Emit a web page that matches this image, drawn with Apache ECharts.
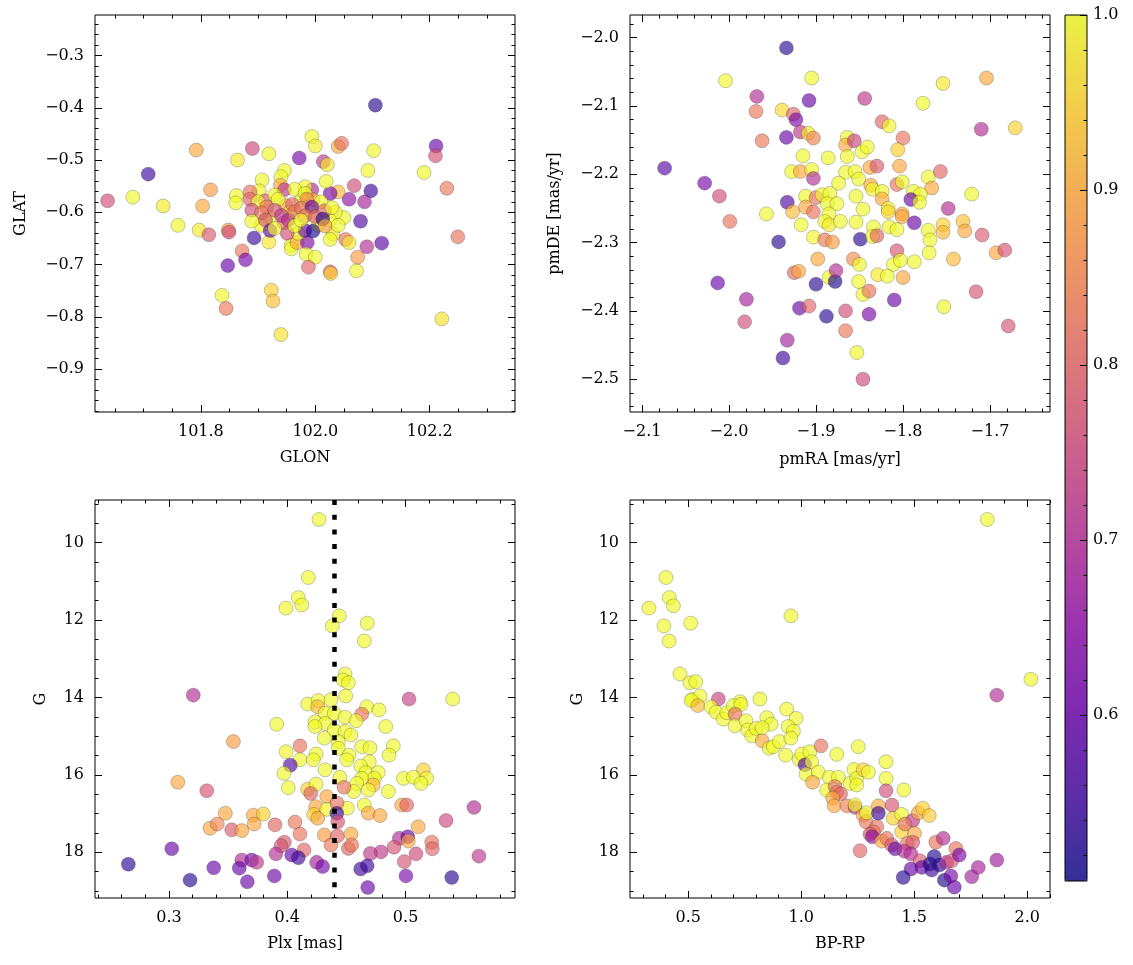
<!DOCTYPE html>
<html><head><meta charset="utf-8">
<style>html,body{margin:0;padding:0;background:#fff}#chart{width:1133px;height:965px}</style>
<script src="https://cdn.jsdelivr.net/npm/echarts@6/dist/echarts.min.js"></script>
</head><body><div id="chart"></div>
<script>
// [GLON, GLAT, membership probability]
const glonGlat = [
[102.105,-0.395,0.53],[101.792,-0.481,0.90],[101.890,-0.478,0.75],[101.919,-0.488,1.00],[101.864,-0.500,0.98],
[101.972,-0.496,0.62],[101.994,-0.455,1.00],[102.000,-0.473,0.99],[102.040,-0.474,0.90],[102.046,-0.468,0.82],
[102.014,-0.503,0.72],[102.021,-0.509,0.98],[102.102,-0.482,1.00],[102.092,-0.520,1.00],[102.211,-0.473,0.60],
[102.210,-0.492,0.77],[102.190,-0.524,1.00],[102.230,-0.554,0.83],[102.249,-0.647,0.82],[102.221,-0.804,0.97],
[101.708,-0.527,0.55],[101.637,-0.578,0.76],[101.681,-0.571,1.00],[101.734,-0.588,0.98],[101.760,-0.625,1.00],
[101.817,-0.557,0.88],[101.803,-0.588,0.90],[101.797,-0.634,0.98],[101.814,-0.643,0.78],[101.848,-0.634,0.88],
[101.849,-0.638,0.75],[101.872,-0.674,0.82],[101.878,-0.691,0.62],[101.847,-0.702,0.60],[101.893,-0.649,0.55],
[101.919,-0.657,0.98],[101.837,-0.759,1.00],[101.844,-0.784,0.83],[101.923,-0.749,0.95],[101.926,-0.770,0.93],
[101.940,-0.834,0.97],[101.958,-0.663,1.00],[101.958,-0.670,1.00],[101.968,-0.658,0.90],[101.986,-0.658,0.63],
[101.984,-0.680,1.00],[102.000,-0.686,1.00],[101.988,-0.705,0.80],[102.026,-0.714,0.80],[102.027,-0.717,0.95],
[102.072,-0.712,1.00],[102.074,-0.686,0.88],[102.053,-0.652,0.82],[102.059,-0.658,0.98],[102.090,-0.666,0.70],
[102.116,-0.659,0.58],[102.079,-0.617,0.57],[102.050,-0.610,1.00],[102.031,-0.642,0.98],[102.026,-0.652,1.00],
[102.097,-0.559,0.55],[102.068,-0.549,0.76],[102.086,-0.580,0.68],[102.059,-0.575,0.65],[102.040,-0.561,0.92],
[102.026,-0.564,0.62],[102.019,-0.541,1.00],[101.994,-0.557,0.70],[101.982,-0.551,1.00],[101.946,-0.520,1.00],
[101.940,-0.532,1.00],[101.907,-0.538,1.00],[101.902,-0.559,1.00],[101.886,-0.561,0.82],[101.886,-0.575,0.80],
[101.862,-0.568,1.00],[101.861,-0.582,1.00],[101.912,-0.578,0.78],[101.939,-0.548,0.90],[101.946,-0.557,0.72],
[101.929,-0.567,1.00],[101.948,-0.587,0.90],[101.976,-0.576,1.00],[101.996,-0.576,0.92],[101.955,-0.600,1.00],
[102.010,-0.580,1.00],[101.920,-0.610,1.00],[102.035,-0.600,1.00],[101.970,-0.640,1.00],[101.900,-0.580,1.00],
[101.964,-0.556,1.00],[101.982,-0.564,1.00],[101.935,-0.575,1.00],[101.990,-0.600,1.00],[102.005,-0.625,1.00],
[101.945,-0.620,0.82],[101.915,-0.590,0.85],[102.025,-0.615,1.00],[101.960,-0.585,0.80],[102.040,-0.625,1.00],
[101.905,-0.625,1.00],[101.985,-0.575,0.85],
[101.889,-0.596,0.76],[101.906,-0.601,0.82],[101.929,-0.596,0.77],
[101.941,-0.606,0.72],[101.913,-0.615,0.77],[101.889,-0.617,1.00],[101.953,-0.615,0.70],[101.964,-0.599,0.82],
[101.976,-0.592,0.82],[101.994,-0.590,0.60],[101.982,-0.607,0.82],[102.000,-0.608,0.80],[102.016,-0.597,0.80],
[102.013,-0.613,0.53],[102.029,-0.591,1.00],[101.921,-0.635,0.60],[101.951,-0.640,0.76],[101.982,-0.635,0.60],
[101.996,-0.636,0.52],[102.017,-0.626,0.90],[101.929,-0.631,1.00],[101.964,-0.626,1.00],[101.975,-0.615,1.00]
];
// [pmRA, pmDE, membership probability]
const pmraPmde = [
[-1.934,-2.015,0.53],[-2.004,-2.063,1.00],[-1.905,-2.059,1.00],[-1.968,-2.086,0.70],[-1.908,-2.092,0.60],
[-1.844,-2.089,0.72],[-1.754,-2.067,0.98],[-1.704,-2.059,0.90],[-1.777,-2.096,1.00],[-1.969,-2.108,0.83],
[-1.939,-2.106,0.96],[-1.926,-2.112,0.80],[-1.923,-2.120,0.62],[-1.918,-2.138,0.72],[-1.909,-2.140,0.98],
[-1.903,-2.147,0.84],[-1.934,-2.146,0.60],[-1.962,-2.151,0.83],[-1.824,-2.123,0.80],[-1.816,-2.129,1.00],
[-1.800,-2.147,0.82],[-1.710,-2.134,0.70],[-1.671,-2.132,0.95],[-2.074,-2.191,0.58],[-2.028,-2.213,0.62],
[-2.011,-2.232,0.76],[-1.864,-2.146,1.00],[-1.866,-2.157,0.90],[-1.856,-2.151,0.74],[-1.847,-2.167,1.00],
[-1.841,-2.160,1.00],[-1.915,-2.173,1.00],[-1.886,-2.176,1.00],[-1.864,-2.174,1.00],[-1.806,-2.164,0.95],
[-1.804,-2.188,0.90],[-1.838,-2.190,0.90],[-1.830,-2.188,0.78],[-1.928,-2.196,1.00],[-1.918,-2.196,0.90],
[-1.905,-2.193,1.00],[-1.903,-2.206,0.70],[-1.866,-2.197,1.00],[-1.855,-2.196,1.00],[-1.851,-2.207,1.00],
[-1.874,-2.213,1.00],[-1.837,-2.216,0.90],[-1.835,-2.222,1.00],[-1.824,-2.225,1.00],[-1.824,-2.236,0.90],
[-1.807,-2.215,0.82],[-1.801,-2.211,1.00],[-1.771,-2.204,1.00],[-1.757,-2.196,0.80],[-1.767,-2.220,0.90],
[-1.788,-2.225,1.00],[-1.780,-2.229,1.00],[-1.791,-2.237,0.60],[-1.781,-2.241,1.00],[-1.721,-2.229,1.00],
[-1.748,-2.250,0.70],[-1.912,-2.232,1.00],[-1.900,-2.234,0.82],[-1.893,-2.230,1.00],[-1.884,-2.228,1.00],
[-1.854,-2.232,1.00],[-1.887,-2.243,1.00],[-1.876,-2.243,1.00],[-1.933,-2.241,0.57],[-1.912,-2.248,0.90],
[-1.957,-2.258,1.00],[-1.927,-2.255,0.92],[-1.903,-2.255,0.82],[-1.885,-2.258,1.00],[-1.846,-2.251,1.00],
[-1.817,-2.250,1.00],[-1.817,-2.255,0.95],[-1.801,-2.258,0.90],[-1.999,-2.269,0.82],[-1.917,-2.274,1.00],
[-1.890,-2.269,1.00],[-1.885,-2.274,0.98],[-1.872,-2.269,1.00],[-1.854,-2.270,1.00],[-1.834,-2.277,1.00],
[-1.816,-2.277,1.00],[-1.807,-2.281,1.00],[-1.801,-2.262,0.90],[-1.787,-2.271,0.60],[-1.771,-2.282,1.00],
[-1.769,-2.296,1.00],[-1.770,-2.315,1.00],[-1.754,-2.274,0.95],[-1.754,-2.285,0.92],[-1.731,-2.269,0.93],
[-1.729,-2.283,0.90],[-1.709,-2.289,0.78],[-1.693,-2.315,0.90],[-1.683,-2.311,0.77],[-1.742,-2.324,0.92],
[-1.943,-2.299,0.53],[-1.903,-2.292,1.00],[-1.890,-2.296,0.83],[-1.881,-2.299,0.88],[-1.849,-2.295,0.53],
[-1.835,-2.291,1.00],[-1.830,-2.290,0.80],[-1.898,-2.324,0.90],[-1.857,-2.324,0.86],[-1.850,-2.332,1.00],
[-1.807,-2.312,0.77],[-1.811,-2.332,1.00],[-1.803,-2.326,1.00],[-1.787,-2.328,1.00],[-2.013,-2.359,0.60],
[-1.980,-2.383,0.68],[-1.982,-2.416,0.76],[-1.925,-2.344,0.80],[-1.920,-2.342,0.90],[-1.900,-2.361,0.53],
[-1.885,-2.351,1.00],[-1.878,-2.357,0.52],[-1.877,-2.341,0.70],[-1.851,-2.357,1.00],[-1.846,-2.376,1.00],
[-1.839,-2.371,0.82],[-1.829,-2.347,0.98],[-1.818,-2.349,1.00],[-1.800,-2.351,0.90],[-1.810,-2.384,0.60],
[-1.753,-2.394,1.00],[-1.716,-2.372,0.77],[-1.679,-2.422,0.77],[-1.919,-2.396,0.60],[-1.908,-2.393,0.80],
[-1.888,-2.408,0.53],[-1.866,-2.400,0.76],[-1.839,-2.405,0.62],[-1.866,-2.429,0.83],[-1.933,-2.443,0.68],
[-1.938,-2.469,0.55],[-1.853,-2.461,1.00],[-1.846,-2.500,0.75]
];
// [Plx, G, membership probability]
const plxG = [
[0.4268,9.40,1.00],[0.4178,10.90,1.00],[0.4093,11.42,1.00],[0.4122,11.61,1.00],[0.3989,11.69,1.00],
[0.4440,11.89,1.00],[0.4380,12.15,1.00],[0.4676,12.08,1.00],[0.4651,12.54,1.00],[0.4488,13.39,1.00],
[0.4473,13.55,1.00],[0.4516,13.62,1.00],[0.3205,13.94,0.70],[0.4494,13.96,1.00],[0.5029,14.04,0.74],
[0.5398,14.04,1.00],[0.4172,14.17,1.00],[0.4262,14.08,1.00],[0.4257,14.24,0.92],[0.4369,14.06,1.00],
[0.4319,14.41,1.00],[0.4397,14.41,1.00],[0.4488,14.51,1.00],[0.4671,14.24,1.00],[0.4775,14.32,1.00],
[0.4629,14.43,0.82],[0.4581,14.60,1.00],[0.4234,14.63,1.00],[0.4319,14.67,1.00],[0.3910,14.69,1.00],
[0.4234,14.75,1.00],[0.4397,14.84,1.00],[0.4488,14.88,1.00],[0.4538,14.97,1.00],[0.4832,14.75,1.00],
[0.4313,15.05,1.00],[0.4431,15.14,1.00],[0.3544,15.14,0.88],[0.4107,15.25,0.82],[0.3989,15.40,1.00],
[0.4243,15.46,1.00],[0.4431,15.31,1.00],[0.4522,15.49,1.00],[0.4629,15.27,1.00],[0.4699,15.30,1.00],
[0.4896,15.25,1.00],[0.4860,15.49,1.00],[0.4107,15.61,1.00],[0.4220,15.61,1.00],[0.4502,15.61,1.00],
[0.4693,15.66,1.00],[0.4025,15.75,0.57],[0.4620,15.77,1.00],[0.4319,15.87,1.00],[0.3972,15.96,1.00],
[0.4663,15.94,1.00],[0.4769,15.94,1.00],[0.4735,16.09,1.00],[0.4629,16.09,1.00],[0.4445,16.06,1.00],
[0.5150,15.87,0.95],[0.4981,16.09,1.00],[0.5065,16.06,1.00],[0.5178,16.09,1.00],[0.5130,16.22,1.00],
[0.4587,16.22,1.00],[0.4727,16.26,0.92],[0.4685,16.39,1.00],[0.4561,16.43,1.00],[0.4854,16.43,1.00],
[0.4008,16.33,1.00],[0.4172,16.37,0.95],[0.4243,16.24,1.00],[0.4198,16.48,0.80],[0.4479,16.32,0.82],
[0.3074,16.19,0.90],[0.3319,16.41,0.77],[0.4333,16.56,0.90],[0.4240,16.82,0.90],[0.4333,16.89,1.00],
[0.4507,16.86,1.00],[0.4420,16.73,0.82],[0.4418,16.99,0.55],[0.4223,17.02,0.95],[0.4257,17.12,0.90],
[0.4651,16.78,1.00],[0.4685,16.99,0.90],[0.4784,17.05,0.90],[0.4967,16.78,0.90],[0.5009,16.78,0.80],
[0.5578,16.84,0.70],[0.5342,17.18,0.75],[0.5107,17.34,0.90],[0.3476,16.99,0.90],[0.3713,17.04,0.90],
[0.3797,17.01,0.95],[0.3719,17.27,0.90],[0.3347,17.38,0.90],[0.3408,17.27,0.85],[0.3530,17.42,0.78],
[0.3615,17.44,0.90],[0.3896,17.29,0.80],[0.4065,17.22,0.83],[0.4107,17.53,0.82],[0.4313,17.55,0.88],
[0.4423,17.58,0.80],[0.4538,17.53,0.90],[0.4369,17.81,0.83],[0.4516,17.90,0.80],[0.4544,17.81,0.83],
[0.4426,17.21,0.77],[0.4947,17.64,0.70],[0.5018,17.60,0.60],[0.5023,17.71,0.90],[0.5221,17.74,0.82],
[0.5226,17.91,0.80],[0.4902,17.87,0.77],[0.4792,17.99,0.72],[0.4702,18.03,0.72],[0.4989,18.24,0.77],
[0.5088,18.04,0.75],[0.5620,18.10,0.72],[0.3975,17.74,0.78],[0.3947,17.83,0.77],[0.4141,17.94,0.80],
[0.3904,18.04,0.70],[0.4037,18.07,0.60],[0.4093,18.14,0.55],[0.4248,18.26,0.68],[0.4299,18.37,0.62],
[0.3615,18.20,0.70],[0.3699,18.20,0.62],[0.3741,18.26,0.72],[0.3594,18.41,0.60],[0.3378,18.40,0.60],
[0.3023,17.91,0.60],[0.2656,18.31,0.53],[0.3178,18.72,0.53],[0.3662,18.76,0.60],[0.3890,18.61,0.60],
[0.4620,18.43,0.55],[0.4676,18.35,0.55],[0.4680,18.91,0.60],[0.5003,18.61,0.62],[0.5390,18.65,0.53]
];
// [BP-RP, G, membership probability]
const colorG = [
[1.823,9.40,1.00],[0.401,10.90,1.00],[0.416,11.42,1.00],[0.434,11.63,1.00],[0.326,11.69,1.00],
[0.954,11.89,1.00],[0.392,12.15,1.00],[0.511,12.08,1.00],[0.415,12.54,1.00],[0.463,13.39,1.00],
[0.507,13.62,1.00],[0.533,13.59,1.00],[2.016,13.53,1.00],[1.865,13.94,0.70],[0.518,14.05,1.00],
[0.552,13.96,1.00],[0.633,14.04,0.74],[0.729,14.11,1.00],[0.817,14.04,1.00],[0.512,14.08,1.00],
[0.542,14.21,0.92],[0.600,14.24,1.00],[0.623,14.38,1.00],[0.655,14.56,1.00],[0.670,14.39,1.00],
[0.699,14.21,1.00],[0.733,14.18,1.00],[0.707,14.43,0.82],[0.707,14.73,1.00],[0.755,14.60,1.00],
[0.763,14.84,1.00],[0.781,14.99,1.00],[0.800,14.80,1.00],[0.827,15.12,0.90],[0.847,14.52,1.00],
[0.866,14.69,1.00],[0.827,14.78,1.00],[0.858,15.31,1.00],[0.876,15.27,1.00],[0.903,15.14,1.00],
[0.935,14.30,1.00],[0.977,14.54,1.00],[0.942,14.75,1.00],[0.965,14.87,1.00],[0.954,15.05,1.00],
[0.931,15.49,1.00],[0.991,15.60,1.00],[1.002,15.46,1.00],[1.038,15.40,1.00],[1.016,15.74,0.57],
[1.046,15.66,1.00],[1.021,15.98,1.00],[1.075,15.93,1.00],[1.087,15.25,0.82],[1.157,15.47,1.00],
[1.252,15.27,1.00],[1.050,16.19,0.90],[1.124,16.06,1.00],[1.164,16.06,1.00],[1.112,16.39,1.00],
[1.149,16.30,0.82],[1.157,16.45,0.83],[1.174,16.49,0.80],[1.139,16.60,0.90],[1.145,16.80,0.90],
[1.201,16.80,0.84],[1.216,16.22,1.00],[1.233,15.86,1.00],[1.245,16.09,1.00],[1.274,15.87,0.95],
[1.297,15.93,1.00],[1.245,16.26,1.00],[1.375,15.66,1.00],[1.375,16.09,1.00],[1.375,16.41,0.76],
[1.454,16.39,1.00],[1.401,16.78,0.77],[1.238,16.84,0.72],[1.238,16.78,1.00],[1.274,17.04,0.90],
[1.286,17.21,0.83],[1.289,16.98,1.00],[1.341,16.80,0.90],[1.341,16.99,0.55],[1.407,17.12,0.95],
[1.444,17.02,1.00],[1.334,17.34,0.82],[1.319,17.47,0.82],[1.304,17.53,0.78],[1.314,17.60,0.65],
[1.356,17.71,0.90],[1.444,17.47,0.95],[1.493,17.18,0.72],[1.458,17.27,0.82],[1.501,17.51,0.90],
[1.518,16.98,0.90],[1.537,16.86,0.95],[1.566,17.05,0.94],[1.378,17.64,0.82],[1.400,17.81,0.78],
[1.415,17.91,0.60],[1.469,17.77,0.82],[1.493,17.74,0.78],[1.456,17.97,0.70],[1.485,18.04,0.70],
[1.260,17.96,0.80],[1.525,18.22,0.78],[1.533,18.39,0.60],[1.485,18.43,0.60],[1.451,18.65,0.53],
[1.569,18.30,0.52],[1.588,18.11,0.52],[1.577,18.46,0.55],[1.611,18.33,0.53],[1.633,18.72,0.52],
[1.595,17.74,0.82],[1.628,17.64,0.70],[1.643,18.26,0.70],[1.665,18.22,0.78],[1.684,17.90,0.82],
[1.699,18.07,0.62],[1.662,18.61,0.62],[1.677,18.90,0.60],[1.754,18.63,0.68],[1.783,18.39,0.68],
[1.865,18.20,0.67]
];
const glonTicks = [101.8, 102.0, 102.2];
const glatTicks = [-0.9, -0.8, -0.7, -0.6, -0.5, -0.4, -0.3];
const pmraTicks = [-2.1, -2.0, -1.9, -1.8, -1.7];
const pmdeTicks = [-2.5, -2.4, -2.3, -2.2, -2.1, -2.0];
const plxTicks = [0.3, 0.4, 0.5];
const gTicks = [10, 12, 14, 16, 18];
const bprpTicks = [0.5, 1.0, 1.5, 2.0];
const probTicks = [0.6, 0.7, 0.8, 0.9, 1.0];
const plxReference = 0.4426;
const probRange = [0.505, 1.0];

const FONT = 'DejaVu Serif';
const FS = 16;
function fmt(d) { return v => (v < 0 ? '\u2212' : '') + Math.abs(v).toFixed(d); }
function minorVals(min, max, step, majors) {
  const out = [];
  const s = Math.ceil(min / step - 1e-9), e = Math.floor(max / step + 1e-9);
  for (let i = s; i <= e; i++) {
    const v = +(i * step).toFixed(6);
    if (!majors.some(m => Math.abs(m - v) < step * 1e-3)) out.push(v);
  }
  return out;
}
function makeAxes(kind, grid, o) {
  const sides = kind === 'x' ? ['bottom', 'top'] : ['left', 'right'];
  const minors = minorVals(o.min, o.max, o.minor, o.ticks);
  const base = { type: 'value', gridIndex: grid, min: o.min, max: o.max, inverse: !!o.inverse,
    splitLine: { show: false }, axisLine: { show: false, onZero: false }, z: 5 };
  const arr = [];
  sides.forEach((pos, si) => {
    arr.push(Object.assign({}, base, {
      position: pos,
      axisTick: { show: true, inside: true, length: 7, customValues: o.ticks, lineStyle: { color: '#000', width: 1 } },
      axisLabel: si === 0 ? { show: true, customValues: o.ticks, formatter: fmt(o.dec), fontFamily: FONT, fontSize: FS, color: '#000', margin: o.margin } : { show: false },
      name: si === 0 ? o.name : '', nameLocation: 'middle', nameGap: o.nameGap,
      nameTextStyle: { fontFamily: FONT, fontSize: FS, color: '#000' }
    }));
    arr.push(Object.assign({}, base, {
      position: pos,
      axisTick: { show: true, inside: true, length: 3.5, customValues: minors, lineStyle: { color: '#000', width: 1 } },
      axisLabel: { show: false }
    }));
  });
  return arr;
}

const grids = [
  { left: 95, top: 15, width: 420, height: 397 },
  { left: 630, top: 15, width: 420, height: 397 },
  { left: 95, top: 500, width: 420, height: 398 },
  { left: 630, top: 500, width: 420, height: 398 },
  { left: 1065, top: 15, width: 22, height: 866, z: 10 }
].map(g => Object.assign({ show: true, borderColor: '#000', borderWidth: 1, backgroundColor: 'transparent', containLabel: false }, g));

const xAxes = [].concat(
  makeAxes('x', 0, { min: 101.615, max: 102.349, ticks: glonTicks, minor: 0.05, dec: 1, name: 'GLON', nameGap: 38, margin: 12 }),
  makeAxes('x', 1, { min: -2.1138, max: -1.631, ticks: pmraTicks, minor: 0.02, dec: 1, name: 'pmRA [mas/yr]', nameGap: 40, margin: 12 }),
  makeAxes('x', 2, { min: 0.2374, max: 0.5925, ticks: plxTicks, minor: 0.02, dec: 1, name: 'Plx [mas]', nameGap: 38, margin: 12 }),
  makeAxes('x', 3, { min: 0.242, max: 2.1004, ticks: bprpTicks, minor: 0.1, dec: 1, name: 'BP-RP', nameGap: 38, margin: 12 }),
  [{ type: 'value', gridIndex: 4, show: false, min: 0, max: 1 }]
);
const yAxes = [].concat(
  makeAxes('y', 0, { min: -0.9822, max: -0.2224, ticks: glatTicks, minor: 0.02, dec: 1, name: 'GLAT', nameGap: 66, margin: 11 }),
  makeAxes('y', 1, { min: -2.548, max: -1.9668, ticks: pmdeTicks, minor: 0.02, dec: 1, name: 'pmDE [mas/yr]', nameGap: 67, margin: 11 }),
  makeAxes('y', 2, { min: 8.897, max: 19.181, ticks: gTicks, minor: 0.5, dec: 0, inverse: true, name: 'G', nameGap: 46, margin: 11 }),
  makeAxes('y', 3, { min: 8.897, max: 19.181, ticks: gTicks, minor: 0.5, dec: 0, inverse: true, name: 'G', nameGap: 44, margin: 11 }),
  [
    { type: 'value', gridIndex: 4, position: 'right', min: probRange[0], max: probRange[1], z: 12,
      splitLine: { show: false }, axisLine: { show: false, onZero: false },
      axisTick: { show: true, inside: true, length: 7, customValues: probTicks, lineStyle: { color: '#000', width: 1 } },
      axisLabel: { show: true, customValues: probTicks, formatter: fmt(1), fontFamily: FONT, fontSize: FS, color: '#000', margin: 6 } },
    { type: 'value', gridIndex: 4, position: 'right', min: probRange[0], max: probRange[1], z: 12,
      splitLine: { show: false }, axisLine: { show: false, onZero: false },
      axisTick: { show: true, inside: true, length: 3.5, customValues: minorVals(probRange[0], probRange[1], 0.02, probTicks), lineStyle: { color: '#000', width: 1 } },
      axisLabel: { show: false } }
  ]
);

const plasma = ['rgba(13,8,135,0.8)', 'rgba(65,4,157,0.8)', 'rgba(106,0,168,0.8)', 'rgba(143,13,164,0.8)',
  'rgba(177,42,144,0.8)', 'rgba(204,71,120,0.8)', 'rgba(225,100,98,0.8)', 'rgba(242,132,75,0.8)',
  'rgba(252,166,54,0.8)', 'rgba(252,206,37,0.8)', 'rgba(240,249,33,0.8)'];

function scatter(i, data) {
  return { type: 'scatter', xAxisIndex: 4 * i, yAxisIndex: 4 * i, data: data, symbolSize: 14,
    itemStyle: { borderColor: 'rgba(40,40,40,0.55)', borderWidth: 0.6 },
    emphasis: { disabled: true }, animation: false, z: 2 };
}
const s3 = scatter(2, plxG);
s3.markLine = { silent: true, symbol: ['none', 'none'], label: { show: false }, animation: false,
  lineStyle: { color: '#000', width: 4.5, type: [5, 9.7], cap: 'butt', opacity: 1 },
  emphasis: { disabled: true }, data: [{ xAxis: plxReference }] };

const option = {
  animation: false,
  backgroundColor: '#fff',
  grid: grids,
  xAxis: xAxes,
  yAxis: yAxes,
  visualMap: {
    type: 'continuous', min: probRange[0], max: probRange[1], dimension: 2, seriesIndex: [0, 1, 2, 3],
    calculable: false, orient: 'vertical', left: 1065, top: 15, itemWidth: 22, itemHeight: 866, padding: 0,
    inRange: { color: plasma }, textStyle: { color: 'rgba(0,0,0,0)' }, hoverLink: false, z: 4
  },
  series: [scatter(0, glonGlat), scatter(1, pmraPmde), s3, scatter(3, colorG)]
};
const chart = echarts.init(document.getElementById('chart'), null, { renderer: 'canvas' });
chart.setOption(option);
</script></body></html>
